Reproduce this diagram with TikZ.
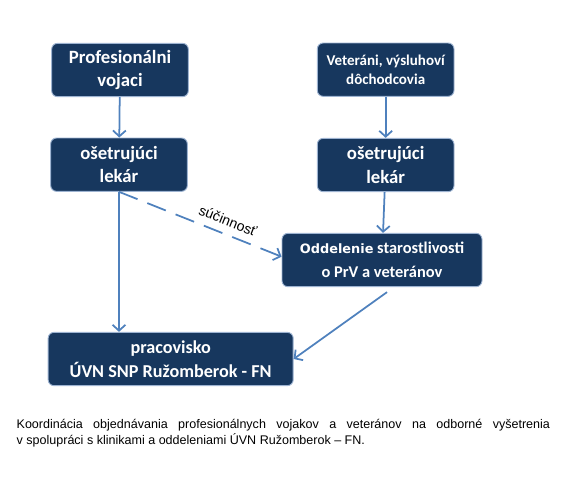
\documentclass[tikz,border=0pt]{standalone}
\usepackage{fontspec}
\setmainfont{Carlito}
\newfontfamily\arialfont{Liberation Sans}
\newfontfamily\verdanafont{DejaVu Sans}
\usepackage{tikz}
\usetikzlibrary{arrows.meta,calc,positioning}
\definecolor{tmavoModra}{HTML}{17375E}
\definecolor{okrajModry}{HTML}{9DB3D1}
\definecolor{sipkaModra}{HTML}{4F81BD}

\begin{document}
\begin{tikzpicture}[scale=1.0, every node/.style={font=\bfseries},
  skatula/.style={draw=okrajModry,fill=tmavoModra,text=white,rounded corners=5pt,
                  line width=0.8pt,minimum width=4.1cm,minimum height=1.6cm,align=center,
                  font=\bfseries\fontsize{16}{20}\selectfont},
  sipka/.style={-{Straight Barb[length=5pt,width=11pt]},line width=1.5pt,sipkaModra}]
\useasboundingbox (0,0) rectangle (17.01,-14.37);
\node[skatula] (prof) at (3.6,-2.1) {Profesionálni\\ vojaci};
\node[skatula,font=\bfseries\fontsize{12.8}{16}\selectfont] (vet) at (11.57,-2.09) {Veteráni, výsluhoví\\ dôchodcovia};
\node[skatula] (lekL) at (3.57,-4.94) {ošetrujúci\\ lekár};
\node[skatula] (lekR) at (11.57,-4.95) {ošetrujúci\\ lekár};
\node[skatula,minimum width=6cm,inner xsep=1pt,font=\bfseries\fontsize{14}{20}\selectfont] (odd) at (11.46,-7.8)
  {{\verdanafont\fontsize{11}{20}\selectfont Oddelenie} starostlivosti\\ o PrV a veteránov};
\node[skatula,minimum width=7.35cm,font=\bfseries\fontsize{15.5}{20}\selectfont] (prac) at (5.12,-10.77) {pracovisko\\ ÚVN SNP Ružomberok - FN};
\draw[sipka] (prof) -- (lekL);
\draw[sipka] (vet) -- (lekR);
\draw[sipka] (lekR) -- (odd);
\draw[sipka] (lekL.south) -- (lekL.south |- prac.north);
\draw[sipka,dash pattern=on 17pt off 9pt] (lekL.south) -- ([yshift=0.1cm]odd.west)
  node[pos=0.64,above=3pt,sloped,black,font=\arialfont\fontsize{12}{14}\selectfont]{súčinnosť};
\draw[sipka] ([xshift=0.15cm,yshift=-0.15cm]odd.south) -- (prac.east);
\node[text width=16cm,align=justify,inner sep=0pt,font=\arialfont\fontsize{10.7}{13.6}\selectfont] (popis) at (8.5,-13.0)
  {Koordinácia objednávania profesionálnych vojakov a veteránov na odborné vyšetrenia\linebreak
   v spolupráci s klinikami a oddeleniami ÚVN Ružomberok – FN.};
\end{tikzpicture}
\end{document}
